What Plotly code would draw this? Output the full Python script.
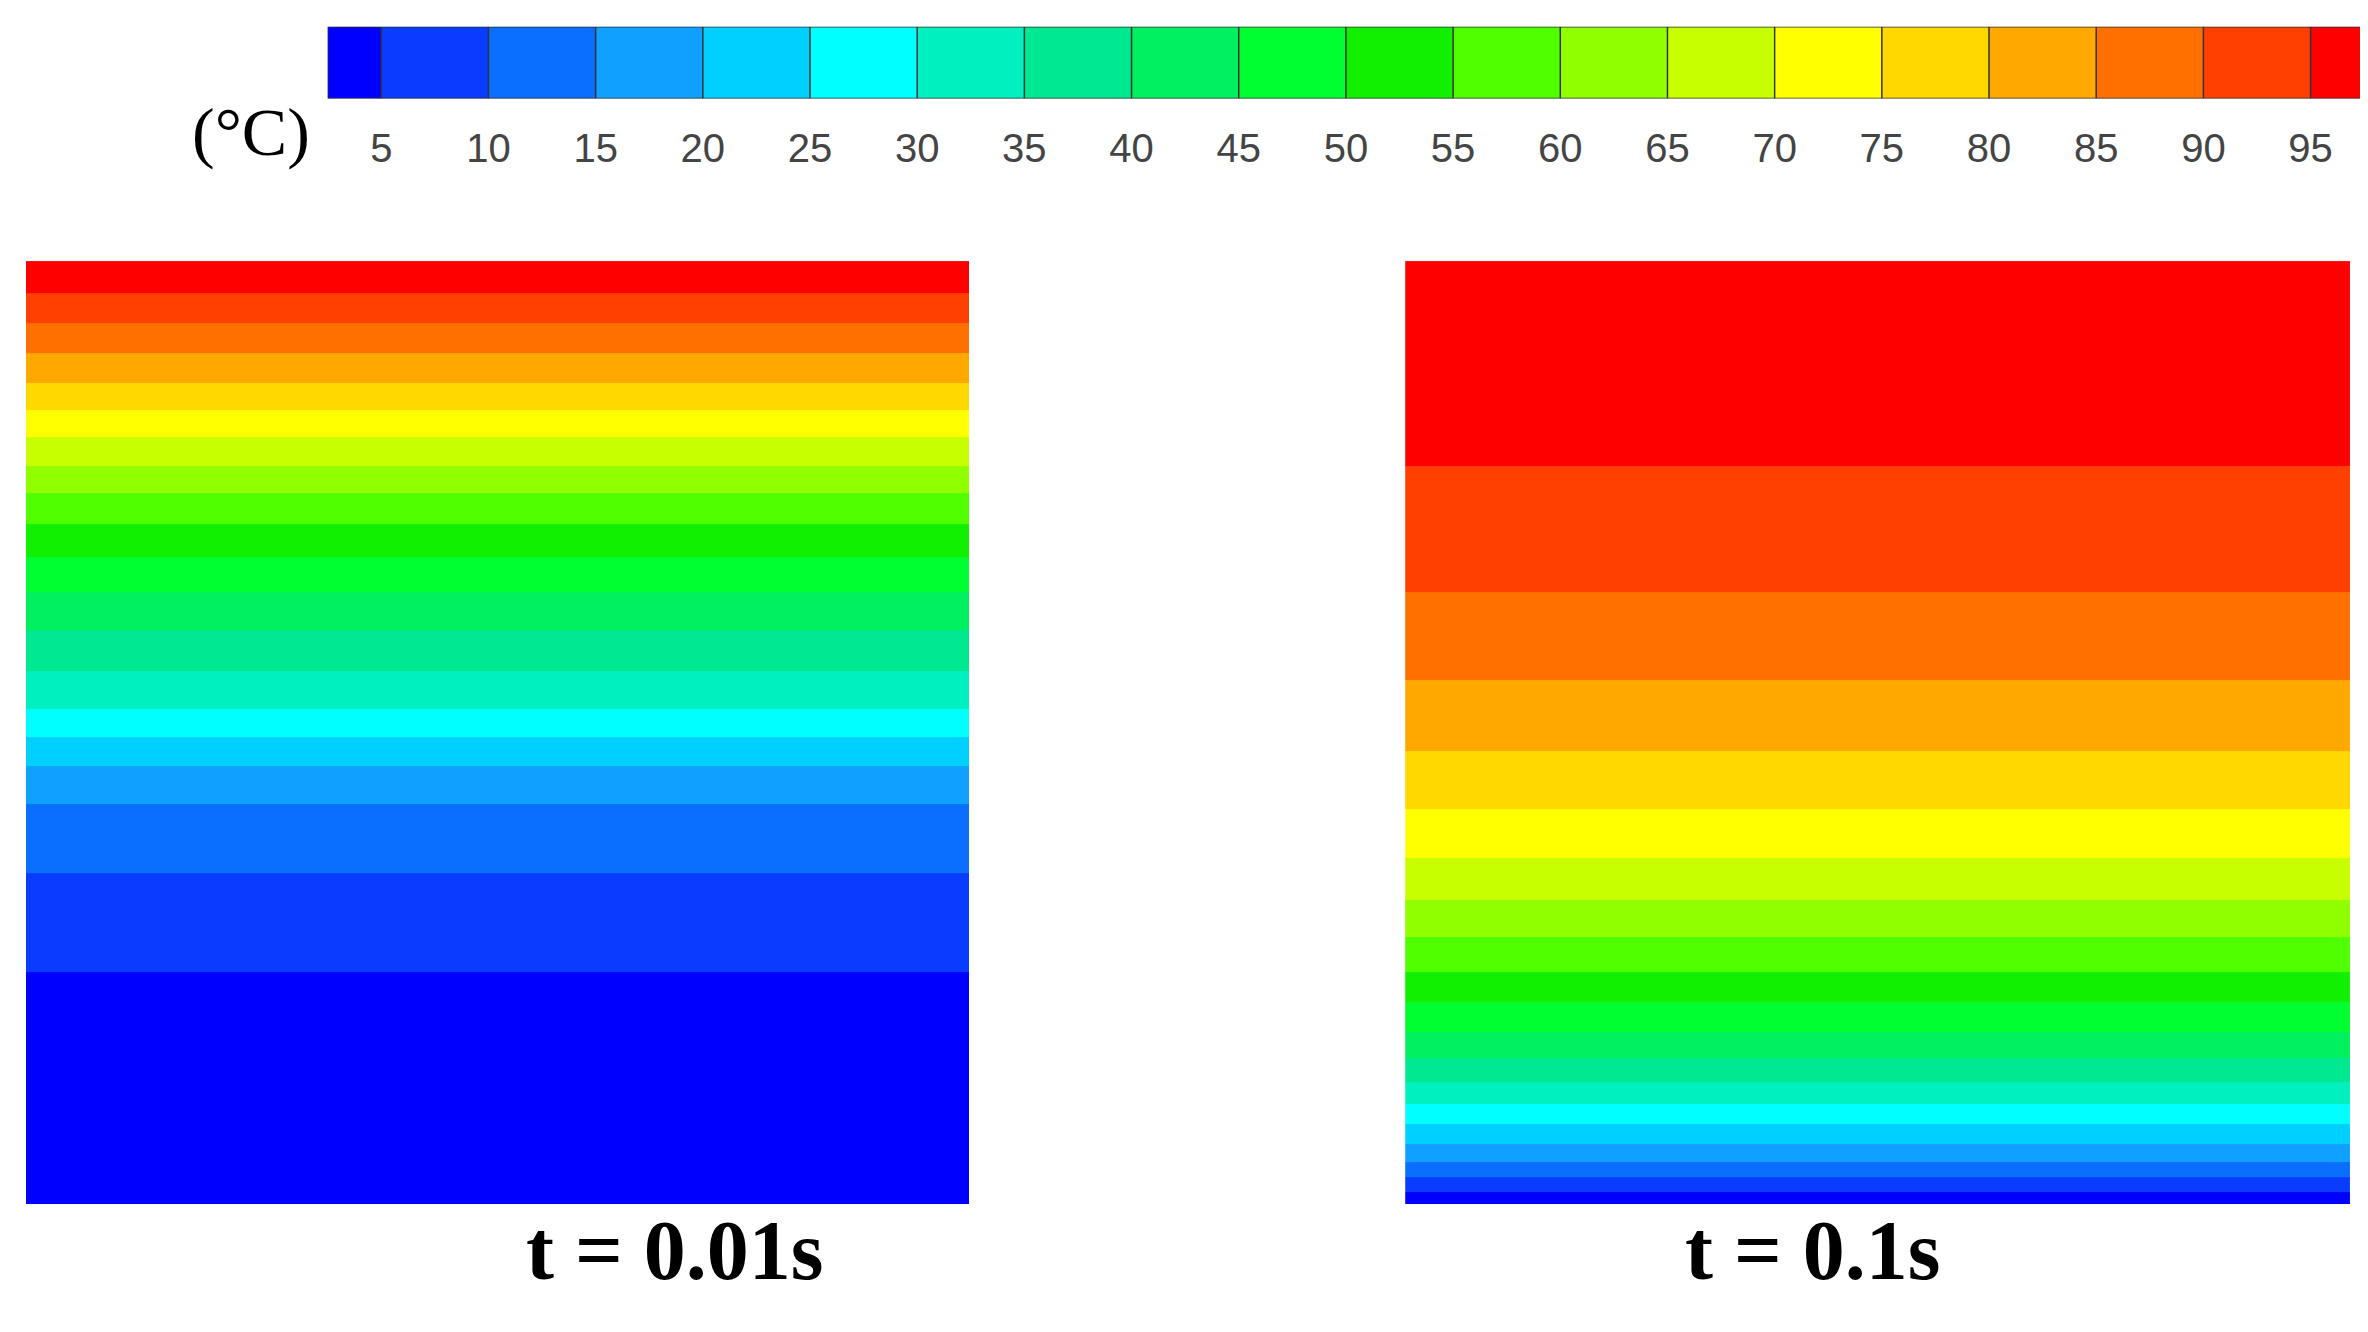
import plotly.graph_objects as go

# colour levels (°C): band edges and colours, as in the legend bar
level_edges = [2.5, 5, 10, 15, 20, 25, 30, 35, 40, 45, 50, 55, 60, 65, 70, 75, 80, 85, 90, 95, 97.5]
level_colors = ['#0000ff', '#0a3cff', '#0a6eff', '#10a0ff', '#00d0ff', '#00ffff', '#00f0c0',
                '#00e890', '#00f060', '#00ff30', '#10f000', '#50ff00', '#90ff00', '#c8ff00',
                '#ffff00', '#ffd800', '#ffa800', '#ff7000', '#ff4000', '#ff0000']
tick_vals = [5, 10, 15, 20, 25, 30, 35, 40, 45, 50, 55, 60, 65, 70, 75, 80, 85, 90, 95]

# depth (0 = top, 1 = bottom) where each isotherm 95, 90, ..., 5 sits
iso_temps = [95, 90, 85, 80, 75, 70, 65, 60, 55, 50, 45, 40, 35, 30, 25, 20, 15, 10, 5]
depth_t001 = [0.034, 0.066, 0.098, 0.129, 0.158, 0.187, 0.217, 0.246, 0.279, 0.314,
              0.351, 0.391, 0.435, 0.475, 0.505, 0.535, 0.576, 0.649, 0.754]
depth_t01 = [0.217, 0.351, 0.444, 0.520, 0.581, 0.633, 0.678, 0.717, 0.754, 0.786,
             0.818, 0.845, 0.871, 0.894, 0.915, 0.936, 0.955, 0.971, 0.987]

lo, hi = level_edges[0], level_edges[-1]
cscale = []
for i, c in enumerate(level_colors):
    cscale.append([(level_edges[i] - lo) / (hi - lo), c])
    cscale.append([(level_edges[i + 1] - lo) / (hi - lo), c])


def band_trace(depths, xa, ya):
    edges = [0.0] + depths + [1.0]
    temps = [96.25] + [t - 2.5 for t in iso_temps[:-1]] + [3.75]
    z = [[t, t] for t in temps]
    return go.Heatmap(x=[0, 1, 2], y=edges, z=z, zmin=lo, zmax=hi, colorscale=cscale,
                      showscale=False, xaxis=xa, yaxis=ya, hoverinfo='skip')


fig = go.Figure()
fig.add_trace(band_trace(depth_t001, 'x', 'y'))
fig.add_trace(band_trace(depth_t01, 'x2', 'y2'))

# legend bar
mids = [(level_edges[i] + level_edges[i + 1]) / 2 for i in range(len(level_colors))]
fig.add_trace(go.Heatmap(x=level_edges, y=[0, 1], z=[mids], zmin=lo, zmax=hi, colorscale=cscale,
                         showscale=False, xaxis='x3', yaxis='y3', hoverinfo='skip'))
lx, ly = [], []
for e in level_edges:
    lx += [e, e, None]
    ly += [0, 1, None]
lx += [lo, hi, None, lo, hi]
ly += [0, 0, None, 1, 1]
fig.add_trace(go.Scatter(x=lx, y=ly, mode='lines', line=dict(color='#333', width=1.5),
                         xaxis='x3', yaxis='y3', showlegend=False, hoverinfo='skip'))

hidden = dict(visible=False, fixedrange=True)
fig.update_layout(
    width=2368, height=1332, margin=dict(l=0, r=0, t=0, b=0),
    plot_bgcolor='white', paper_bgcolor='white', showlegend=False,
    xaxis=dict(domain=[0.0076, 0.406], range=[0, 2], **hidden),
    yaxis=dict(domain=[0.102, 0.810], range=[1, 0], **hidden),
    xaxis2=dict(domain=[0.590, 0.989], range=[0, 2], **hidden),
    yaxis2=dict(domain=[0.102, 0.810], range=[1, 0], anchor='x2', **hidden),
    xaxis3=dict(domain=[0.135, 0.995], range=[lo, hi], anchor='y3', tickvals=tick_vals,
                ticks='', showgrid=False, zeroline=False, ticklabelstandoff=22,
                tickfont=dict(family='Liberation Sans', size=40, color='#444'), fixedrange=True),
    yaxis3=dict(domain=[0.932, 0.986], range=[0, 1], anchor='x3', **hidden),
    annotations=[
        dict(text='(°C)', x=0.077, y=0.937, xref='paper', yref='paper', showarrow=False,
             font=dict(family='Liberation Serif', size=68, color='black')),
        dict(text='<b>t = 0.01s</b>', x=0.218, y=0.031, xref='paper', yref='paper', showarrow=False,
             font=dict(family='Liberation Serif', size=84, color='black')),
        dict(text='<b>t = 0.1s</b>', x=0.817, y=0.031, xref='paper', yref='paper', showarrow=False,
             font=dict(family='Liberation Serif', size=84, color='black')),
    ],
)

fig.write_html("out.html")
